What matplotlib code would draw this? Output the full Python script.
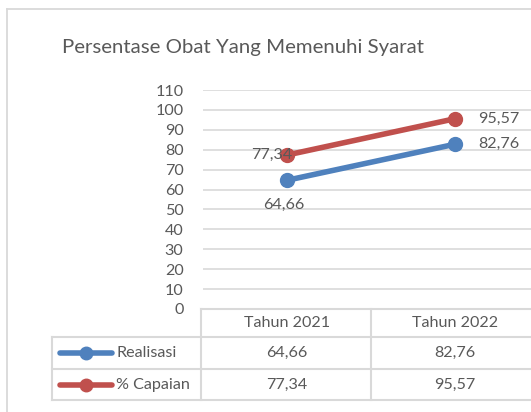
import matplotlib
matplotlib.use("Agg")
import matplotlib.pyplot as plt
from matplotlib.transforms import blended_transform_factory
from matplotlib.lines import Line2D

categories = ["Tahun 2021", "Tahun 2022"]
series_names = ["Realisasi", "% Capaian"]
realisasi = [64.66, 82.76]
capaian = [77.34, 95.57]
labels_realisasi = ["64,66", "82,76"]
labels_capaian = ["77,34", "95,57"]
yticks = list(range(0, 111, 10))

W, H = 531, 412
BLUE = "#4f81bd"
RED = "#c0504d"
TXT = "#595959"
GRID = "#d9d9d9"
FONT = "Lato"
FS = 11.6

plt.rcParams['font.family'] = [FONT, 'DejaVu Sans']

fig = plt.figure(figsize=(W / 100, H / 100), dpi=100)

def fx(x):
    return x / W

def fy(y):
    return 1 - y / H

# plot area (right edge extends beyond the image, as in the cropped reference)
left, right, top, bottom = 203, 539, 90, 309
ax = fig.add_axes([fx(left), fy(bottom), fx(right - left), fy(top) - fy(bottom)])
ax.set_xlim(-0.5, 1.5)
ax.set_ylim(0, 110)
ax.set_yticks(yticks)
ax.set_xticks([])
for s in ax.spines.values():
    s.set_visible(False)
ax.grid(axis="y", color=GRID, linewidth=1.2)
ax.set_axisbelow(True)
ax.tick_params(axis="y", length=0, pad=14, labelsize=FS, labelcolor=TXT)

x = list(range(len(categories)))
ax.plot(x, realisasi, color=BLUE, linewidth=4, marker="o", markersize=10, clip_on=False, zorder=3)
ax.plot(x, capaian, color=RED, linewidth=4, marker="o", markersize=10, clip_on=False, zorder=3)

# data labels
ax.annotate(labels_capaian[0], (0, capaian[0]), xytext=(5, 0), textcoords="offset pixels",
            ha="right", va="center", fontsize=FS, color=TXT, zorder=4)
ax.annotate(labels_realisasi[0], (0, realisasi[0]), xytext=(-3, -25), textcoords="offset pixels",
            ha="center", va="center", fontsize=FS, color=TXT, zorder=4)
ax.annotate(labels_capaian[1], (1, capaian[1]), xytext=(23, 0), textcoords="offset pixels",
            ha="left", va="center", fontsize=FS, color=TXT, zorder=4)
ax.annotate(labels_realisasi[1], (1, realisasi[1]), xytext=(23, 0), textcoords="offset pixels",
            ha="left", va="center", fontsize=FS, color=TXT, zorder=4)

# title
fig.text(fx(62), fy(48), "Persentase Obat Yang Memenuhi Syarat", fontsize=14.7,
         color=TXT, ha="left", va="center")

# outer chart frame
fig.add_artist(Line2D([fx(7), fx(7)], [fy(9), fy(412)], color=GRID, linewidth=1.3))
fig.add_artist(Line2D([fx(7), fx(531)], [fy(9), fy(9)], color=GRID, linewidth=1.3))

# data table
tl = dict(color=GRID, linewidth=1.5)
row_y = [309, 337, 369, 400]
fig.add_artist(Line2D([fx(201), fx(539)], [fy(309), fy(309)], **tl))
for yy in row_y[1:]:
    fig.add_artist(Line2D([fx(52), fx(539)], [fy(yy), fy(yy)], **tl))
fig.add_artist(Line2D([fx(52), fx(52)], [fy(337), fy(400)], **tl))
fig.add_artist(Line2D([fx(201), fx(201)], [fy(309), fy(400)], **tl))
fig.add_artist(Line2D([fx(371), fx(371)], [fy(309), fy(400)], **tl))

trans = blended_transform_factory(ax.transData, fig.transFigure)
for i, cat in enumerate(categories):
    fig.text(i, fy(323), cat, transform=trans, ha="center", va="center", fontsize=FS, color=TXT)
    fig.text(i, fy(353), labels_realisasi[i], transform=trans, ha="center", va="center", fontsize=FS, color=TXT)
    fig.text(i, fy(385), labels_capaian[i], transform=trans, ha="center", va="center", fontsize=FS, color=TXT)

for name, col, yy in [(series_names[0], BLUE, 353), (series_names[1], RED, 385)]:
    fig.add_artist(Line2D([fx(60), fx(112)], [fy(yy), fy(yy)], color=col, linewidth=4,
                          solid_capstyle="round"))
    fig.add_artist(Line2D([fx(86)], [fy(yy)], color=col, marker="o", markersize=9, linestyle="none"))
    fig.text(fx(116), fy(yy), name, ha="left", va="center", fontsize=FS, color=TXT)

fig.savefig("out.png", dpi=100)
